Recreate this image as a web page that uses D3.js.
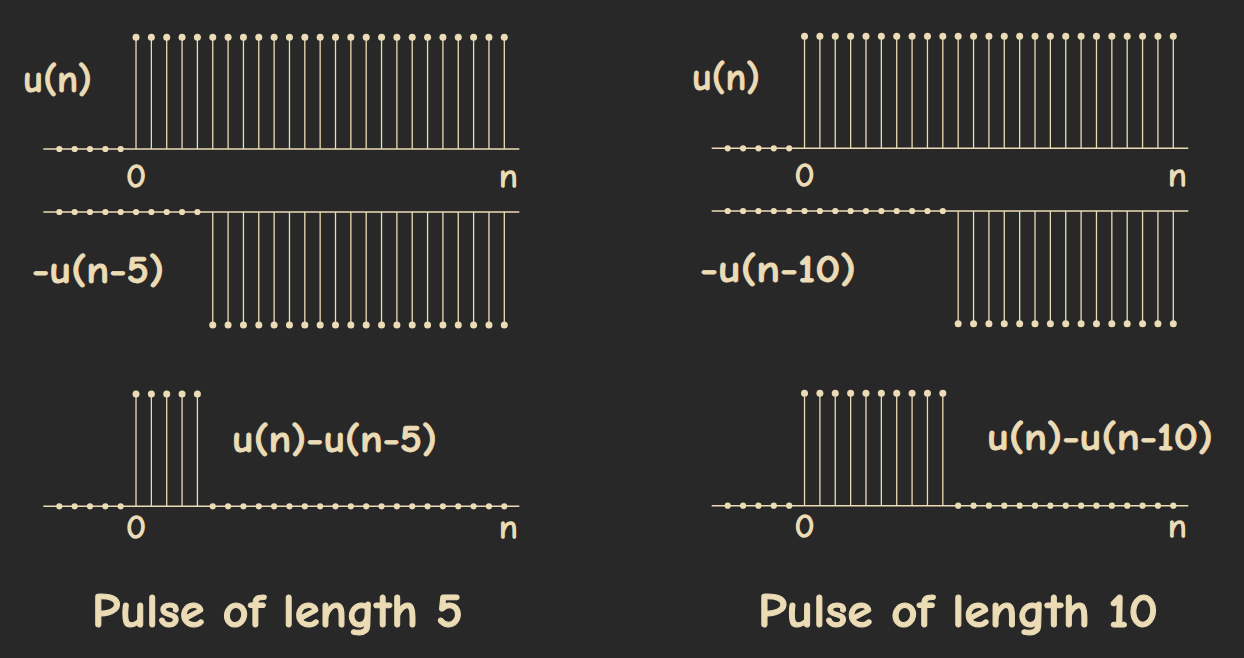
<!DOCTYPE html>
<html><head><meta charset="utf-8">
<script src="https://cdn.jsdelivr.net/npm/d3@7"></script>
<style>
html,body{margin:0;padding:0;background:#282828;}
svg{display:block;}
text{font-family:"Comic Sans MS","Comic Neue",Lato,sans-serif;fill:#ecdcb6;stroke:#ecdcb6;stroke-linejoin:round;}
</style></head><body>
<svg id="c" width="1244" height="658"></svg>
<script>
// sample indices
const nValues = [-5,-4,-3,-2,-1,0,1,2,3,4,5,6,7,8,9,10,11,12,13,14,15,16,17,18,19,20,21,22,23,24];
// left column (pulse of length 5)
const uN      = [0,0,0,0,0,1,1,1,1,1,1,1,1,1,1,1,1,1,1,1,1,1,1,1,1,1,1,1,1,1];
const negU5   = [0,0,0,0,0,0,0,0,0,0,-1,-1,-1,-1,-1,-1,-1,-1,-1,-1,-1,-1,-1,-1,-1,-1,-1,-1,-1,-1];
const pulse5  = [0,0,0,0,0,1,1,1,1,1,0,0,0,0,0,0,0,0,0,0,0,0,0,0,0,0,0,0,0,0];
// right column (pulse of length 10)
const negU10  = [0,0,0,0,0,0,0,0,0,0,0,0,0,0,0,-1,-1,-1,-1,-1,-1,-1,-1,-1,-1,-1,-1,-1,-1,-1];
const pulse10 = [0,0,0,0,0,1,1,1,1,1,1,1,1,1,1,0,0,0,0,0,0,0,0,0,0,0,0,0,0,0];
// labels
const tickLabels = ["0","n"];
const leftLabels = ["u(n)","-u(n-5)","u(n)-u(n-5)","Pulse of length 5"];
const rightLabels = ["u(n)","-u(n-10)","u(n)-u(n-10)","Pulse of length 10"];

const C = "#ecdcb6";
const svg = d3.select("#c");

function stemPanel(x, y0, y1, vals, showTicks, tickY){
  const g = svg.append("g");
  const y = d3.scaleLinear().domain([0, 1]).range([y0, y1]);
  const [xa, xb] = x.range();
  g.append("line").attr("x1", xa - 16).attr("x2", xb + 15)
    .attr("y1", y(0)).attr("y2", y(0)).attr("stroke", C).attr("stroke-width", 1.4);
  const data = nValues.map((n,i)=>({n, v: vals[i]}));
  g.selectAll("line.s").data(data.filter(d=>d.v!==0)).join("line")
    .attr("x1", d=>x(d.n)).attr("x2", d=>x(d.n))
    .attr("y1", y(0)).attr("y2", d=>y(d.v))
    .attr("stroke", C).attr("stroke-width", 1.3);
  g.selectAll("circle").data(data).join("circle")
    .attr("cx", d=>x(d.n)).attr("cy", d=>y(d.v))
    .attr("r", d=>d.v===0?3.1:3.5).attr("fill", C);
  if(showTicks){
    g.append("text").attr("x", x(0)).attr("y", tickY).attr("text-anchor","middle")
      .attr("font-size",33).attr("stroke-width",1.6).text(tickLabels[0]);
    g.append("text").attr("x", x(24)+4).attr("y", tickY).attr("text-anchor","middle")
      .attr("font-size",33).attr("stroke-width",1.6).text(tickLabels[1]);
  }
}
function label(txt, x, y, size, len, sw){
  svg.append("text").attr("x", x).attr("y", y).attr("font-size", size)
    .attr("font-weight", "bold").attr("stroke-width", sw)
    .attr("textLength", len).attr("lengthAdjust", "spacingAndGlyphs")
    .text(txt);
}

// left column
const xL = d3.scaleLinear().domain([-5, 24]).range([59.3, 504.3]);
stemPanel(xL, 149, 37.3, uN, true, 187);
stemPanel(xL, 212, 325, negU5.map(v=>-v), false);
stemPanel(xL, 506.3, 394, pulse5, true, 538);
label(leftLabels[0], 23, 92, 38, 69, 0.8);
label(leftLabels[1], 32, 283, 38, 132, 0.8);
label(leftLabels[2], 232, 452, 38, 205, 0.8);
label(leftLabels[3], 92, 627, 48, 371, 1);

// right column
const xR = d3.scaleLinear().domain([-5, 24]).range([727.7, 1173.3]);
stemPanel(xR, 148.3, 36.3, uN, true, 186);
stemPanel(xR, 211, 323.7, negU10.map(v=>-v), false);
stemPanel(xR, 505.7, 393.3, pulse10, true, 537);
label(rightLabels[0], 692, 90, 38, 68, 0.8);
label(rightLabels[1], 700, 282, 38, 156, 0.8);
label(rightLabels[2], 987, 450, 38, 226, 0.8);
label(rightLabels[3], 758, 627, 48, 400, 1);
</script></body></html>
